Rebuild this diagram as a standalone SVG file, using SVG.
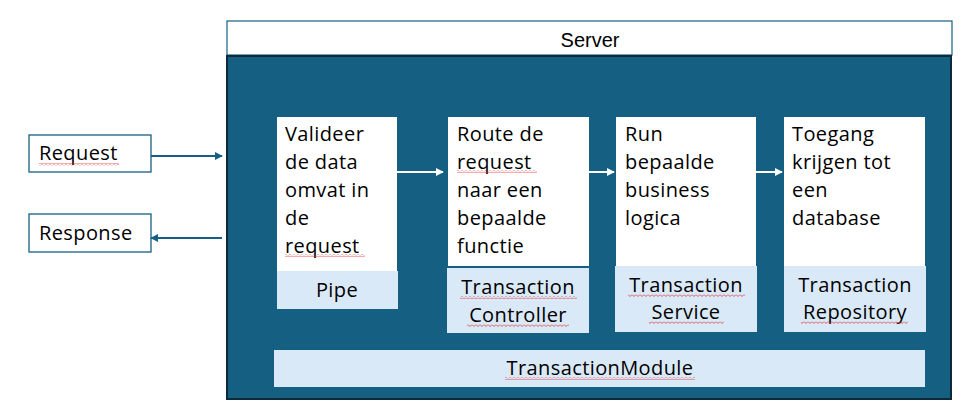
<svg xmlns="http://www.w3.org/2000/svg" width="972" height="412" viewBox="0 0 972 412">
<defs>
<style>
.t{font-family:"Open Sans","Liberation Sans",sans-serif;font-size:20px;fill:#000;letter-spacing:0.4px}
.c{text-anchor:middle}
.io{fill:#fff;stroke:#156082;stroke-width:1.3}
.wb{fill:#fff}
.lb{fill:#dae9f7}
.sq{fill:url(#sq)}
</style>
<pattern id="sq" patternUnits="userSpaceOnUse" width="4" height="3">
<path d="M0,0.5 L2,2.5 L4,0.5" fill="none" stroke="#e03030" stroke-width="0.8"/>
</pattern>
<marker id="ab" viewBox="0 0 10 10" refX="9" refY="5" markerWidth="4" markerHeight="4" orient="auto-start-reverse" markerUnits="strokeWidth">
<path d="M0,0 L10,5 L0,10 z" fill="#156082"/>
</marker>
<marker id="aw" viewBox="0 0 10 10" refX="9" refY="5" markerWidth="4" markerHeight="4" orient="auto" markerUnits="strokeWidth">
<path d="M0,0 L10,5 L0,10 z" fill="#fff"/>
</marker>
</defs>
<rect width="972" height="412" fill="#fff"/>

<g id="server">
<rect x="227" y="21" width="725" height="34" fill="#fff" stroke="#156082" stroke-width="1.2"/>
<text x="590" y="47" class="c" style="font-family:'Liberation Sans',sans-serif;font-size:20px">Server</text>
<rect x="227" y="56" width="724" height="343" fill="#156082" stroke="#0d2a3a" stroke-width="2"/>
</g>

<g id="request">
<rect class="io" x="29" y="135" width="122" height="37"/>
<text class="t" x="39" y="160">Request</text>
<rect class="sq" x="39" y="163" width="80" height="3"/>
</g>
<g id="response">
<rect class="io" x="29" y="214" width="122" height="38"/>
<text class="t" x="39" y="240">Response</text>
</g>

<g id="pipe">
<rect class="wb" x="277" y="117" width="120" height="154"/>
<text class="t" x="285" y="141">Valideer</text>
<text class="t" x="285" y="169">de data</text>
<text class="t" x="285" y="197">omvat in</text>
<text class="t" x="285" y="225">de</text>
<text class="t" x="285" y="253">request</text>
<rect class="sq" x="285" y="254" width="80" height="3"/>
<rect class="lb" x="277" y="271" width="121" height="38"/>
<text class="t c" x="337" y="297">Pipe</text>
</g>

<g id="controller">
<rect class="wb" x="448" y="117" width="141" height="149"/>
<text class="t" x="457" y="141">Route de</text>
<text class="t" x="457" y="169">request</text>
<rect class="sq" x="457" y="170" width="80" height="3"/>
<text class="t" x="457" y="197">naar een</text>
<text class="t" x="457" y="225">bepaalde</text>
<text class="t" x="457" y="253">functie</text>
<rect class="lb" x="447" y="268" width="142" height="65"/>
<text class="t c" x="518" y="294">Transaction</text>
<rect class="sq" x="460" y="296" width="117" height="3"/>
<text class="t c" x="518" y="322">Controller</text>
<rect class="sq" x="467" y="324" width="102" height="3"/>
</g>

<g id="service">
<rect class="wb" x="616" y="117" width="140" height="149"/>
<text class="t" x="625" y="141">Run</text>
<text class="t" x="625" y="169">bepaalde</text>
<text class="t" x="625" y="197">business</text>
<text class="t" x="625" y="225">logica</text>
<rect class="lb" x="615" y="266" width="142" height="66"/>
<text class="t c" x="686" y="292">Transaction</text>
<rect class="sq" x="628" y="294" width="117" height="3"/>
<text class="t c" x="686" y="319">Service</text>
<rect class="sq" x="649" y="321" width="75" height="3"/>
</g>

<g id="repository">
<rect class="wb" x="784" y="117" width="141" height="149"/>
<text class="t" x="792" y="141">Toegang</text>
<text class="t" x="792" y="169">krijgen tot</text>
<text class="t" x="792" y="197">een</text>
<text class="t" x="792" y="225">database</text>
<rect class="lb" x="784" y="266" width="142" height="66"/>
<text class="t c" x="855" y="292">Transaction</text>
<text class="t c" x="855" y="319">Repository</text>
<rect class="sq" x="801" y="321" width="107" height="3"/>
</g>

<g id="module">
<rect class="lb" x="274" y="350" width="651" height="37"/>
<text class="t c" x="600" y="375">TransactionModule</text>
<rect class="sq" x="505" y="377" width="190" height="3"/>
</g>

<g id="connectors" fill="none" stroke-width="2">
<line x1="151" y1="156" x2="222" y2="156" stroke="#156082" marker-end="url(#ab)"/>
<line x1="222" y1="238" x2="151" y2="238" stroke="#156082" marker-end="url(#ab)"/>
<line x1="397" y1="172" x2="443" y2="172" stroke="#fff" marker-end="url(#aw)"/>
<line x1="589" y1="172" x2="614" y2="172" stroke="#fff" marker-end="url(#aw)"/>
<line x1="756" y1="172" x2="782" y2="172" stroke="#fff" marker-end="url(#aw)"/>
</g>
</svg>
